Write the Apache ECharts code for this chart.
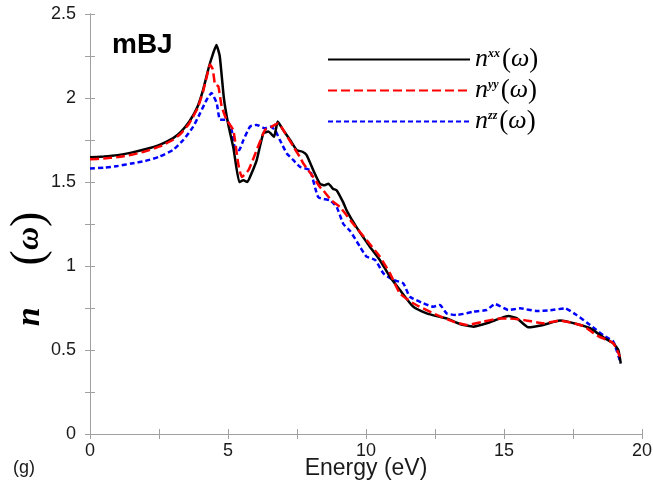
<!DOCTYPE html>
<html><head><meta charset="utf-8">
<script src="https://cdn.jsdelivr.net/npm/echarts@6/dist/echarts.min.js"></script>
<style>html,body{margin:0;padding:0;background:#fff}#c{width:653px;height:494px}</style>
</head><body><div id="c"></div>
<script>
const xxE = [0,0.5,1,1.5,2,2.5,3,3.3,3.6,3.9,4.1,4.3,4.45,4.58,4.7,4.85,5.0,5.2,5.41,5.56,5.7,5.85,6.04,6.28,6.46,6.67,6.8,7.0,7.25,7.49,7.7,7.85,8.09,8.33,8.5,8.64,8.8,8.94,9.17,9.3,9.66,10.14,10.5,10.87,11.23,11.71,12.2,12.6,12.92,13.4,13.89,14.37,14.86,15.16,15.46,15.88,16.42,17.03,17.63,18.12,18.6,18.96,19.14,19.23];
const xxN = [1.647,1.652,1.66,1.675,1.695,1.72,1.76,1.8,1.86,1.95,2.05,2.18,2.26,2.315,2.25,2.0,1.85,1.7,1.50,1.51,1.50,1.55,1.63,1.79,1.80,1.77,1.86,1.81,1.75,1.69,1.68,1.66,1.57,1.49,1.48,1.49,1.46,1.45,1.38,1.33,1.23,1.115,1.036,0.936,0.857,0.758,0.718,0.70,0.688,0.655,0.639,0.659,0.688,0.702,0.69,0.635,0.649,0.675,0.655,0.63,0.575,0.54,0.5,0.42];
const yyE = [0,0.5,1,1.5,2,2.5,3,3.3,3.6,3.9,4.1,4.25,4.35,4.45,4.53,4.65,4.77,4.95,5.19,5.37,5.5,5.74,6.04,6.34,6.58,6.82,7.0,7.37,7.6,7.73,8.09,8.33,8.45,8.75,9.06,9.54,10.02,10.5,10.87,11.23,11.71,12.44,13.16,13.65,14.25,14.86,15.1,15.7,16.42,17.03,17.87,18.36,18.96,19.2];
const yyN = [1.635,1.64,1.648,1.662,1.682,1.71,1.75,1.79,1.85,1.94,2.04,2.14,2.2,2.17,2.08,2.07,1.95,1.87,1.81,1.61,1.53,1.57,1.69,1.81,1.83,1.85,1.81,1.71,1.65,1.61,1.53,1.47,1.45,1.39,1.35,1.25,1.155,1.056,0.956,0.837,0.778,0.718,0.669,0.649,0.669,0.688,0.688,0.679,0.659,0.675,0.643,0.587,0.54,0.46];
const zzE = [0,0.5,1,1.5,2,2.5,3,3.38,3.74,3.99,4.23,4.4,4.59,4.71,4.95,5.13,5.25,5.4,5.56,5.8,6.04,6.34,6.52,6.7,6.88,7.13,7.37,7.61,7.97,8.27,8.7,8.94,9.18,9.42,9.78,10.02,10.33,10.63,10.99,11.35,11.59,12.08,12.44,12.68,12.92,13.28,13.89,14.37,14.67,15.16,15.58,16.18,16.67,17.21,17.63,18.12,18.6,18.96,19.23];
const zzN = [1.58,1.585,1.595,1.61,1.625,1.65,1.69,1.75,1.83,1.91,1.99,2.03,1.97,1.87,1.87,1.81,1.70,1.69,1.75,1.83,1.84,1.82,1.83,1.81,1.75,1.67,1.63,1.59,1.57,1.41,1.39,1.35,1.25,1.21,1.115,1.056,1.036,0.956,0.917,0.897,0.817,0.778,0.758,0.768,0.718,0.708,0.728,0.738,0.774,0.738,0.748,0.732,0.736,0.748,0.708,0.649,0.587,0.55,0.42];
const seriesNames = ['xx','yy','zz'];
const seriesColors = ['#000000','#ff0000','#0000ff'];
const xTicks = [0,5,10,15,20];
const yTicks = [0,0.5,1,1.5,2,2.5];

const zip = (a,b) => a.map((v,i)=>[v,b[i]]);
const chart = echarts.init(document.getElementById('c'));
const axisCol = '#a0a0a0';
const labelFont = {fontFamily:'Liberation Sans, Arial, sans-serif', fontSize:18, color:'#1a1a1a'};
const serif = 'Liberation Serif, Times New Roman, serif';
chart.setOption({
  animation:false,
  backgroundColor:'#fff',
  grid:{left:90,right:11,top:14,bottom:60,containLabel:false,outerBoundsMode:'none'},
  title:[
    {text:'mBJ',left:107,top:26,textStyle:{fontFamily:'Liberation Sans, Arial, sans-serif',fontWeight:'bold',fontSize:28,color:'#000'}},
    {text:'(g)',left:8,top:454,textStyle:{fontFamily:'Liberation Sans, Arial, sans-serif',fontWeight:'normal',fontSize:18,color:'#1a1a1a'}}
  ],
  legend:{
    orient:'vertical',left:322,top:41,itemWidth:142,itemHeight:14,itemGap:4,
    data:seriesNames,
    itemStyle:{opacity:0,borderWidth:0},
    formatter:(name)=>'{n|n}{s|'+name+'}{p|(}{w|ω}{p|)}',
    textStyle:{rich:{
      n:{fontFamily:serif,fontStyle:'italic',fontSize:26,color:'#000',lineHeight:28},
      s:{fontFamily:serif,fontStyle:'italic',fontWeight:'bold',fontSize:12,color:'#000',padding:[0,2,12,0],lineHeight:28},
      p:{fontFamily:serif,fontSize:27,color:'#000',lineHeight:28},
      w:{fontFamily:serif,fontStyle:'italic',fontSize:26,color:'#000',lineHeight:28}
    }}
  },
  xAxis:[{
    type:'value',min:0,max:20,interval:5,
    name:'Energy (eV)',nameLocation:'middle',nameGap:23,nameMoveOverlap:false,
    nameTextStyle:{fontFamily:'Liberation Sans, Arial, sans-serif',fontSize:23,color:'#1a1a1a'},
    axisLine:{show:true,lineStyle:{color:axisCol,width:1}},
    axisTick:{show:true,inside:true,length:5,lineStyle:{color:axisCol}},
    minorTick:{show:true,splitNumber:2,length:5,lineStyle:{color:axisCol}},
    splitLine:{show:false},
    axisLabel:Object.assign({margin:8,formatter:(v)=>xTicks.includes(v)?String(v):''},labelFont)
  },{
    type:'value',position:'top',min:0,max:20,interval:2.5,
    axisLine:{show:true,lineStyle:{color:axisCol,width:1}},
    axisTick:{show:true,inside:true,length:5,lineStyle:{color:axisCol}},
    axisLabel:{show:false},splitLine:{show:false}
  }],
  yAxis:[{
    type:'value',min:0,max:2.5,interval:0.5,
    name:'{n|n}{p|(}{w|ω}{p|)}',nameLocation:'middle',nameGap:37,nameMoveOverlap:false,
    nameTextStyle:{padding:[0,90,0,0],rich:{
      n:{fontFamily:serif,fontStyle:'italic',fontWeight:'bold',fontSize:34,color:'#000',padding:[0,42,0,0]},
      p:{fontFamily:serif,fontSize:46,color:'#000'},
      w:{fontFamily:serif,fontStyle:'italic',fontWeight:'bold',fontSize:32,color:'#000'}
    }},
    axisLine:{show:true,lineStyle:{color:axisCol,width:1}},
    axisTick:{show:true,inside:true,length:5,lineStyle:{color:axisCol}},
    minorTick:{show:true,splitNumber:2,length:5,lineStyle:{color:axisCol}},
    splitLine:{show:false},
    axisLabel:Object.assign({margin:14,formatter:(v)=>yTicks.includes(v)?String(v):''},labelFont)
  },{
    type:'value',position:'right',min:0,max:2.5,interval:0.25,
    axisLine:{show:true,lineStyle:{color:axisCol,width:1}},
    axisTick:{show:true,inside:true,length:5,lineStyle:{color:axisCol}},
    axisLabel:{show:false},splitLine:{show:false}
  }],
  series:[
    {name:'xx',type:'line',data:zip(xxE,xxN),showSymbol:false,symbol:'none',smooth:0.15,
      lineStyle:{color:seriesColors[0],width:2.5},itemStyle:{color:seriesColors[0]},z:3},
    {name:'yy',type:'line',data:zip(yyE,yyN),showSymbol:false,symbol:'none',smooth:0.15,
      lineStyle:{color:seriesColors[1],width:2.5,type:[9,4]},itemStyle:{color:seriesColors[1]},z:4},
    {name:'zz',type:'line',data:zip(zzE,zzN),showSymbol:false,symbol:'none',smooth:0.15,
      lineStyle:{color:seriesColors[2],width:2.5,type:[5,3]},itemStyle:{color:seriesColors[2]},z:2}
  ]
});
</script></body></html>
